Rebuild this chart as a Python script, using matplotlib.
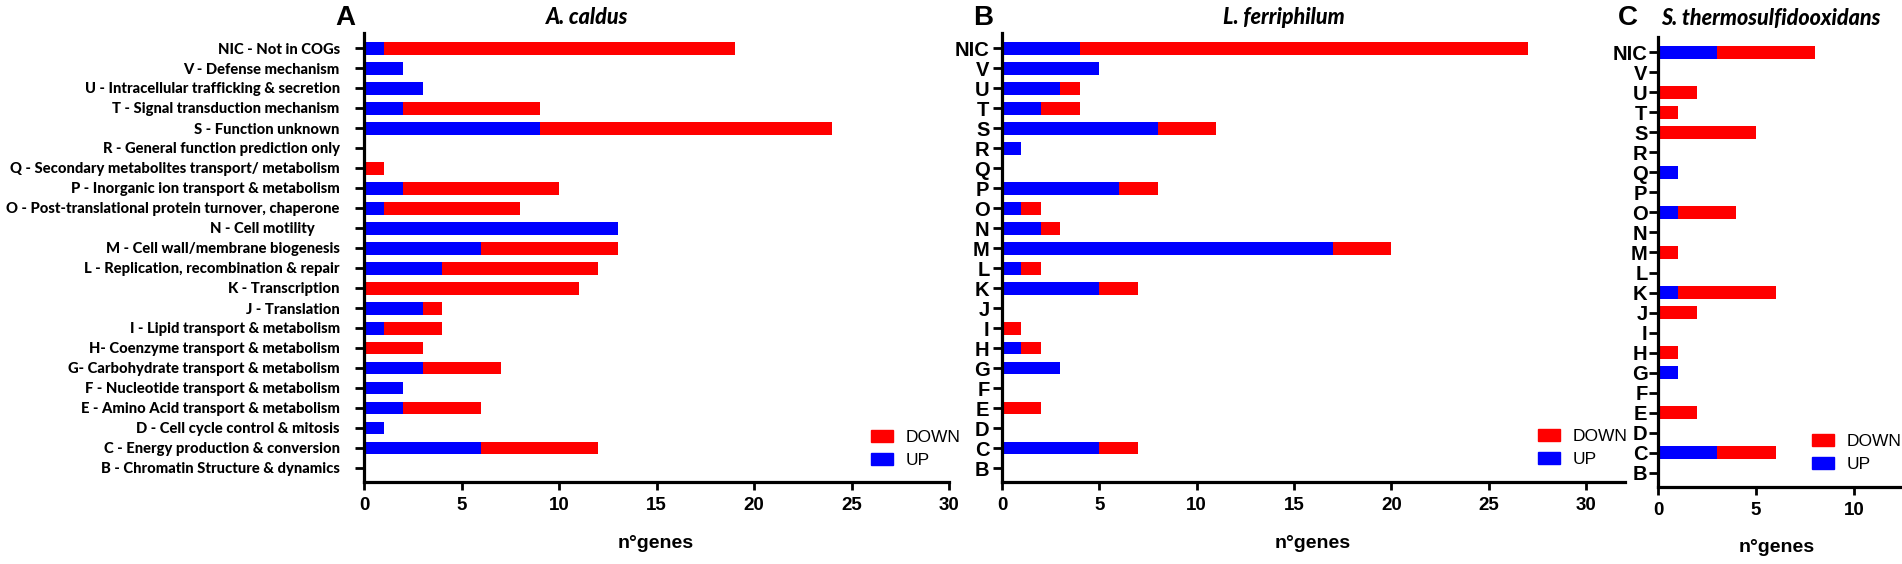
import matplotlib
matplotlib.use("Agg")
import matplotlib.pyplot as plt
from matplotlib.patches import Patch
from matplotlib import font_manager as fm
import numpy as np

# ---------------- data ----------------
cog_letters = ["NIC", "V", "U", "T", "S", "R", "Q", "P", "O", "N", "M",
               "L", "K", "J", "I", "H", "G", "F", "E", "D", "C", "B"]
cog_names = [
    "NIC - Not in COGs",
    "V - Defense mechanism",
    "U - Intracellular trafficking & secretion",
    "T - Signal transduction mechanism",
    "S - Function unknown",
    "R - General function prediction only",
    "Q - Secondary metabolites transport/ metabolism",
    "P - Inorganic ion transport & metabolism",
    "O - Post-translational protein turnover, chaperone",
    "N - Cell motility       ",
    "M - Cell wall/membrane biogenesis",
    "L - Replication, recombination & repair",
    "K - Transcription",
    "J - Translation",
    "I - Lipid transport & metabolism",
    "H- Coenzyme transport & metabolism",
    "G- Carbohydrate transport & metabolism",
    "F - Nucleotide transport & metabolism",
    "E - Amino Acid transport & metabolism",
    "D - Cell cycle control & mitosis",
    "C - Energy production & conversion",
    "B - Chromatin Structure & dynamics",
]

# A. caldus
caldus_up   = [1, 2, 3, 2, 9, 0, 0, 2, 1, 13, 6, 4, 0, 3, 1, 0, 3, 2, 2, 1, 6, 0]
caldus_down = [18, 0, 0, 7, 15, 0, 1, 8, 7, 0, 7, 8, 11, 1, 3, 3, 4, 0, 4, 0, 6, 0]
# L. ferriphilum
ferri_up    = [4, 5, 3, 2, 8, 1, 0, 6, 1, 2, 17, 1, 5, 0, 0, 1, 3, 0, 0, 0, 5, 0]
ferri_down  = [23, 0, 1, 2, 3, 0, 0, 2, 1, 1, 3, 1, 2, 0, 1, 1, 0, 0, 2, 0, 2, 0]
# S. thermosulfidooxidans
thermo_up   = [3, 0, 0, 0, 0, 0, 1, 0, 1, 0, 0, 0, 1, 0, 0, 0, 1, 0, 0, 0, 3, 0]
thermo_down = [5, 0, 2, 1, 5, 0, 0, 0, 3, 0, 1, 0, 5, 2, 0, 1, 0, 0, 2, 0, 3, 0]

xticks_ab = [0, 5, 10, 15, 20, 25, 30]
xticks_c = [0, 5, 10]
series_labels = ["DOWN", "UP"]

RED = "#FF0000"
BLUE = "#0000FF"

W, H = 1902, 564
fig = plt.figure(figsize=(W / 100, H / 100), dpi=100)
renderer = fig.canvas.get_renderer()


def is_bold(entry):
    w = entry.weight
    if isinstance(w, str):
        return w in ("bold", "heavy", "black", "extra bold", "demibold", "semibold")
    return w >= 600


def find_font(families, style="normal", bold=True):
    for fam in families:
        for e in fm.fontManager.ttflist:
            if e.name == fam and e.style == style and is_bold(e) == bold:
                return fm.FontProperties(fname=e.fname)
    return None


label_fp = find_font(["Liberation Sans Narrow", "Lato", "Liberation Sans"], "normal", True)
if label_fp is None:
    label_fp = fm.FontProperties(family="DejaVu Sans", weight="bold")
title_fp = find_font(["Lato", "Open Sans", "Noto Sans", "Liberation Sans"], "italic", True)
if title_fp is None:
    title_fp = fm.FontProperties(family="DejaVu Sans", weight="bold", style="italic")


def fit_size(text, fp, target_px, start=12.0):
    fpc = fp.copy()
    fpc.set_size(start)
    t = fig.text(0, 0, text, fontproperties=fpc)
    w = t.get_window_extent(renderer).width
    t.remove()
    return start * target_px / w


longest = "O - Post-translational protein turnover, chaperone"
label_size = fit_size(longest, label_fp, 334)
label_size = min(label_size, 12.5)
label_fp.set_size(label_size)


def fx(px):
    return px / W


def fy(py):
    return 1 - py / H


def make_axes(left, right, top, bottom):
    return fig.add_axes([fx(left), fy(bottom), fx(right - left), (bottom - top) / H])


def draw(ax, up, down, labels, xlim, xticks, pad, fp=None):
    n = len(up)
    y = np.arange(n)[::-1]
    ax.barh(y, up, height=0.65, color=BLUE, zorder=2)
    ax.barh(y, down, left=up, height=0.65, color=RED, zorder=2)
    ax.set_ylim(-0.7, n - 1 + 0.75)
    ax.set_xlim(*xlim)
    ax.set_yticks(y)
    if fp is None:
        ax.set_yticklabels(labels, fontfamily="Liberation Sans", fontweight="bold",
                           fontsize=14.5)
    else:
        ax.set_yticklabels(labels, fontproperties=fp)
    ax.set_xticks(xticks)
    ax.set_xticklabels([str(t) for t in xticks], fontfamily="Liberation Sans",
                       fontweight="bold", fontsize=13.5)
    for s in ["top", "right"]:
        ax.spines[s].set_visible(False)
    for s in ["left", "bottom"]:
        ax.spines[s].set_linewidth(2.3)
    ax.tick_params(axis="y", length=6.5, width=2.0, pad=pad)
    ax.tick_params(axis="x", length=6, width=2.0, pad=5)


def add_legend(ax, left_px, top_px):
    handles = [Patch(color=RED), Patch(color=BLUE)]
    leg = ax.legend(handles, series_labels, loc="upper left",
                    bbox_to_anchor=(fx(left_px), fy(top_px)),
                    bbox_transform=fig.transFigure, frameon=False,
                    borderpad=0, borderaxespad=0, handlelength=1.26,
                    handleheight=0.66, handletextpad=0.75, labelspacing=0.45,
                    prop={"family": "Liberation Sans", "size": 12.5})
    return leg


# Panel A
axA = make_axes(364, 949, 33, 482)
draw(axA, caldus_up, caldus_down, cog_names, (0, 30), xticks_ab, 11, label_fp)
add_legend(axA, 871, 430)

# Panel B
axB = make_axes(1002, 1625, 33, 482)
draw(axB, ferri_up, ferri_down, cog_letters, (0, 32), xticks_ab, 2.5)
add_legend(axB, 1538, 429)

# Panel C
axC = make_axes(1658, 1902, 37, 487)
draw(axC, thermo_up, thermo_down, cog_letters, (0, 12.45), xticks_c, 1)
add_legend(axC, 1812, 434)

# titles
tfp = title_fp.copy()
tfp.set_size(15.5)
for cx, letter in [(345, "A"), (983, "B"), (1628, "C")]:
    fig.text(fx(cx), fy(18), letter, ha="center", va="center",
             fontfamily="Liberation Sans", fontweight="bold", fontsize=20)
for cx, name in [(587, "A. caldus"), (1284, "L. ferriphilum"),
                 (1771, "S. thermosulfidooxidans")]:
    fig.text(fx(cx), fy(18), name, ha="center", va="center", fontproperties=tfp)

# x labels
for cx, cy in [(656, 543), (1313, 543), (1777, 547)]:
    fig.text(fx(cx), fy(cy), "n°genes", ha="center", va="center",
             fontfamily="Liberation Sans", fontweight="bold", fontsize=14)

fig.savefig("out.png", dpi=100)
